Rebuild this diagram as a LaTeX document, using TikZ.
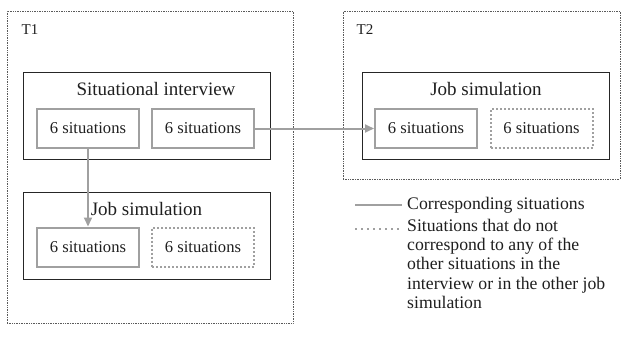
\documentclass[tikz,border=0pt]{standalone}
\usepackage{fontspec}
\setmainfont{Liberation Serif}
\usepackage{xcolor}
\usetikzlibrary{arrows.meta}
\definecolor{situgray}{RGB}{160,160,160}
\definecolor{framegray}{RGB}{90,90,90}

\begin{document}
\begin{tikzpicture}[x=1pt, y=-1pt,
    every node/.style={font=\fontsize{16.6}{19}\selectfont, inner sep=0pt, text=black!88},
    phase/.style={draw=framegray, densely dotted, line width=0.7pt},
    task/.style={draw=black!85, line width=0.9pt, minimum width=247pt, minimum height=87pt},
    tasklab/.style={font=\fontsize{19}{22}\selectfont},
    match/.style={draw=situgray, line width=2pt, minimum width=102pt, minimum height=39pt},
    nomatch/.style={draw=situgray, dotted, line width=2pt, minimum width=102pt, minimum height=39pt},
    legendlab/.style={font=\fontsize{17.7}{19.2}\selectfont},
    link/.style={draw=situgray, line width=2pt, -{Triangle[length=9pt, width=8pt]}}]
    \useasboundingbox (0,0) rectangle (622,338);

    % Time points
    \node[phase, minimum width=286pt, minimum height=312pt] (t1) at (150,167) {};
    \node[font=\fontsize{15}{18}\selectfont] (t1lab) at (30,30) {T1};
    \node[phase, minimum width=277pt, minimum height=168pt] (t2) at (481.5,95) {};
    \node[font=\fontsize{15}{18}\selectfont] (t2lab) at (365,30) {T2};

    % T1 - situational interview
    \node[task] (si) at (146.5,115.5) {};
    \node[tasklab] (silab) at (156,89) {Situational interview};
    \node[match] (si1) at (88,128.5) {6 situations};
    \node[match] (si2) at (203,128.5) {6 situations};

    % T1 - job simulation
    \node[task] (jsa) at (146.5,235.5) {};
    \node[tasklab] (jsalab) at (146.5,209) {Job simulation};
    \node[match] (jsa1) at (88,247) {6 situations};
    \node[nomatch] (jsa2) at (203,247) {6 situations};

    % T2 - job simulation
    \node[task] (jsb) at (486,115.5) {};
    \node[tasklab] (jsblab) at (486,89) {Job simulation};
    \node[match] (jsb1) at (426,128.5) {6 situations};
    \node[nomatch] (jsb2) at (541.5,128.5) {6 situations};

    % Corresponding situations
    \draw[link] (si1.south) -- (jsa1.north);
    \draw[link] (si2.east) -- (jsb1.west);

    % Legend
    \coordinate (solidA) at (355,205);
    \coordinate (solidB) at (402,205);
    \coordinate (dotA) at (355,229);
    \coordinate (dotB) at (402,229);
    \draw[draw=situgray, line width=2pt] (solidA) -- (solidB);
    \draw[draw=situgray, line width=1.5pt, dash pattern=on 1.5pt off 4.5pt] (dotA) -- (dotB);
    \node[legendlab, anchor=west] (solidlab) at (407,205) {Corresponding situations};
    \node[legendlab, anchor=north west, align=left] (dotlab) at (407,219)
        {Situations that do not\\correspond to any of the\\other situations in the\\interview or in the other job\\simulation};

\end{tikzpicture}
\end{document}
